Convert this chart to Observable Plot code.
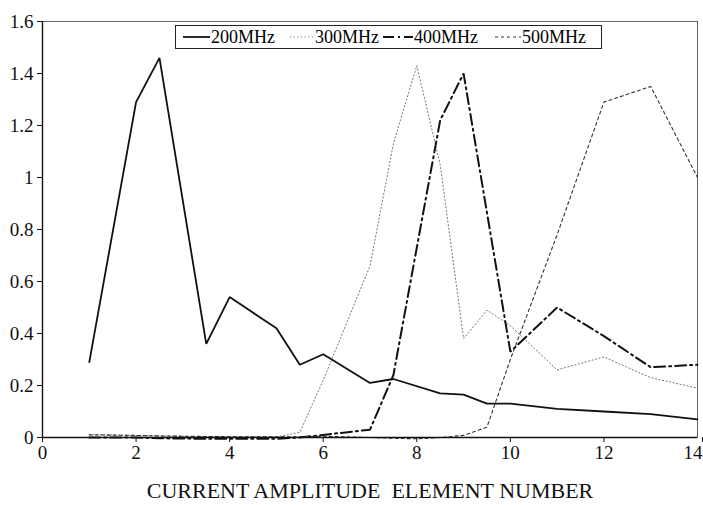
<!DOCTYPE html>
<html>
<head>
<meta charset="utf-8">
<script src="https://cdn.jsdelivr.net/npm/d3@7"></script>
<script src="https://cdn.jsdelivr.net/npm/@observablehq/plot@0.6"></script>
<style>
  body { margin: 0; background: #fff; }
  #wrap { position: relative; width: 703px; height: 505px; font-family: "Liberation Serif", "DejaVu Serif", serif; }
  #legend { position: absolute; left: 175px; top: 25px; width: 427px; height: 24px; border: 1px solid #222; box-sizing: border-box; background: #fff; font-size: 18px; }
  .item { position: absolute; top: 0; height: 22px; display: flex; align-items: center; white-space: nowrap; }
  .item svg { display: block; }
</style>
</head>
<body>
<div id="wrap"></div>
<script>
// Element positions (x) shared by all series
const elementX = [1, 2, 2.5, 3.5, 4, 5, 5.5, 6, 7, 7.5, 8, 8.5, 9, 9.5, 10, 11, 12, 13, 14];
// Current amplitude per frequency (null = no reading at that element)
const amp200 = [0.29, 1.29, 1.46, 0.36, 0.54, 0.42, 0.28, 0.32, 0.21, 0.225, null, 0.17, 0.165, 0.13, 0.13, 0.11, 0.10, 0.09, 0.07];
const amp300 = [0.012, 0.008, 0.006, 0.003, 0.002, 0.002, 0.02, 0.22, 0.66, 1.13, 1.43, 1.05, 0.38, 0.49, 0.43, 0.26, 0.31, 0.23, 0.19];
const amp400 = [0.0, 0.0, -0.003, -0.005, -0.005, -0.005, 0.0, 0.01, 0.03, 0.24, null, 1.22, 1.40, null, 0.33, 0.50, 0.39, 0.27, 0.28];
const amp500 = [0.01, 0.008, 0.006, 0.004, 0.003, 0.003, 0.003, 0.005, 0.0, -0.003, -0.005, 0.0, 0.008, 0.04, 0.30, 0.78, 1.29, 1.35, 1.00];

const seriesNames = ["200MHz", "300MHz", "400MHz", "500MHz"];
const xTicks = [0, 2, 4, 6, 8, 10, 12, 14];
const yTicks = [0, 0.2, 0.4, 0.6, 0.8, 1, 1.2, 1.4, 1.6];
const xTitle = "CURRENT AMPLITUDE  ELEMENT NUMBER";

const styles = {
  "200MHz": { stroke: "#111", strokeWidth: 1.8, dash: null },
  "300MHz": { stroke: "#777", strokeWidth: 1, dash: "1.2,2.4" },
  "400MHz": { stroke: "#111", strokeWidth: 2, dash: "11,4,2,4" },
  "500MHz": { stroke: "#333", strokeWidth: 1.1, dash: "3,3" }
};

const seriesArrays = [amp200, amp300, amp400, amp500];
const data = [];
seriesArrays.forEach((arr, i) => arr.forEach((v, j) => {
  if (v != null) data.push({ x: elementX[j], y: v, s: seriesNames[i] });
}));

const lineMarks = seriesNames.map(name => Plot.line(data.filter(d => d.s === name), {
  x: "x", y: "y",
  stroke: styles[name].stroke,
  strokeWidth: styles[name].strokeWidth,
  strokeDasharray: styles[name].dash ?? undefined,
  strokeLinejoin: "miter"
}));

const lastX = xTicks[xTicks.length - 1];

const chart = Plot.plot({
  width: 703,
  height: 505,
  marginTop: 21,
  marginBottom: 68,
  marginLeft: 42,
  marginRight: 6,
  style: { fontFamily: "Liberation Serif, DejaVu Serif, serif", fontSize: "19px", background: "#fff", color: "#111" },
  x: { domain: [0, 14] },
  y: { domain: [0, 1.6] },
  marks: [
    Plot.frame({ stroke: "#666", strokeWidth: 1 }),
    ...lineMarks,
    Plot.ruleX([0], { stroke: "#111", strokeWidth: 1.4 }),
    Plot.ruleY([0], { stroke: "#111", strokeWidth: 1.4 }),
    Plot.axisX(xTicks.filter(t => t !== lastX), { tickSize: 5, tickPadding: 3, label: null, fontSize: 19 }),
    Plot.axisX([lastX], { tickSize: 5, tickPadding: 3, label: null, fontSize: 19, textAnchor: "end", dx: 5 }),
    Plot.axisX([], { tickSize: 0, label: xTitle, labelAnchor: "center", labelOffset: 60, labelArrow: "none", fontSize: 22 }),
    Plot.axisY(yTicks, { tickSize: 5, tickPadding: 4, label: null, tickFormat: d => String(+d.toFixed(1)), fontSize: 19 })
  ]
});

const wrap = document.getElementById("wrap");
wrap.appendChild(chart);

// Legend (inside plot, top)
const legend = document.createElement("div");
legend.id = "legend";
const itemLeft = [7, 114, 207, 319];
const sampleW = [27, 24, 30, 26];
seriesNames.forEach((name, i) => {
  const st = styles[name];
  const item = document.createElement("div");
  item.className = "item";
  item.style.left = itemLeft[i] + "px";
  const ns = "http://www.w3.org/2000/svg";
  const svg = document.createElementNS(ns, "svg");
  svg.setAttribute("width", sampleW[i]);
  svg.setAttribute("height", 10);
  const ln = document.createElementNS(ns, "line");
  ln.setAttribute("x1", 0); ln.setAttribute("x2", sampleW[i]);
  ln.setAttribute("y1", 5); ln.setAttribute("y2", 5);
  ln.setAttribute("stroke", st.stroke);
  ln.setAttribute("stroke-width", st.strokeWidth);
  if (st.dash) ln.setAttribute("stroke-dasharray", st.dash);
  svg.appendChild(ln);
  item.appendChild(svg);
  const t = document.createElement("span");
  t.textContent = name;
  t.style.marginLeft = "1px";
  item.appendChild(t);
  legend.appendChild(item);
});
wrap.appendChild(legend);
</script>
</body>
</html>
